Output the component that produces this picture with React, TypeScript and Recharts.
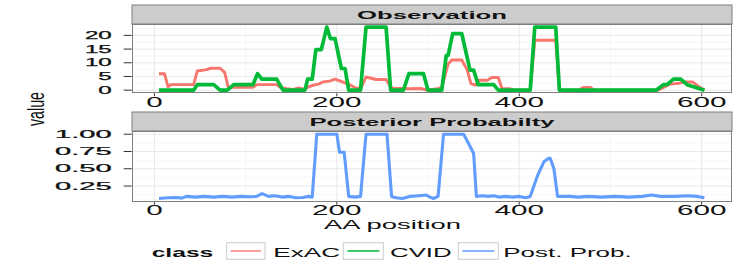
import { LineChart, Line, XAxis, YAxis, CartesianGrid } from 'recharts'

// ExAC (observation panel)
const exacPos = [5, 11, 15, 18, 43, 47, 57, 62, 72, 77, 81, 108, 112, 134, 138, 145, 152, 158, 164, 168, 174, 180, 185, 192, 198, 206, 215, 222, 227, 232, 243, 254, 259, 262, 273, 279, 292, 299, 310, 315, 322, 326, 337, 343, 347, 352, 356, 365, 370, 377, 381, 390, 395, 412, 417, 440, 444, 465, 470, 478, 482, 552, 558, 565, 575, 582, 590, 596, 603]
const exacVal = [6, 6, 1.2, 2, 2, 7, 7.5, 8, 8, 6.5, 1, 1, 2, 2, 1, 0.5, 0.3, 0.8, 0.4, 1, 1.8, 2.2, 3, 3.3, 4, 3, 1.8, 0.6, 1.2, 4.8, 3.9, 3.9, 1.2, 0.6, 0.6, 0.5, 0.6, 0, 0.5, 1, 9.5, 11, 11, 7.3, 2.4, 1.8, 3.6, 3.6, 4.6, 4.6, 0.6, 0.5, 0, 0, 18.2, 18.2, 0, 0, 1, 1, 0, 0, 1, 2.2, 2.5, 3, 3, 1.5, 0]

// CVID (observation panel)
const cvidPos = [5, 43, 47, 65, 72, 80, 87, 108, 113, 118, 134, 141, 165, 168, 173, 177, 183, 189, 193, 198, 205, 209, 213, 226, 232, 254, 259, 273, 279, 295, 300, 315, 320, 322, 327, 337, 346, 350, 355, 372, 377, 412, 417, 440, 444, 550, 558, 562, 569, 577, 584, 603]
const cvidVal = [0, 0, 2, 2, 0, 0, 2, 2, 6, 4, 4, 0, 0, 4, 4, 14.8, 14.8, 23, 18.8, 18.8, 7.9, 7.9, 0, 0, 23, 23, 0, 0, 6, 6, 0, 0, 12.7, 12.7, 20.6, 20.6, 7.3, 7.3, 2, 2, 0, 0, 23, 23, 0, 0, 2, 2, 4, 4, 2, 0]

// Posterior probability
const postPos = [5, 15, 25, 30, 35, 45, 55, 65, 75, 85, 95, 105, 112, 118, 125, 132, 140, 148, 155, 163, 168, 173, 178, 200, 203, 208, 213, 220, 226, 232, 255, 260, 265, 272, 280, 290, 298, 302, 306, 311, 317, 339, 345, 350, 353, 360, 366, 372, 378, 385, 393, 400, 407, 412, 420, 427, 432, 434, 438, 442, 455, 465, 475, 490, 505, 520, 535, 545, 555, 570, 585, 595, 603]
const postVal = [0.07, 0.08, 0.085, 0.075, 0.1, 0.09, 0.1, 0.09, 0.1, 0.09, 0.1, 0.095, 0.1, 0.14, 0.1, 0.11, 0.09, 0.1, 0.08, 0.085, 0.1, 0.09, 1, 1, 0.74, 0.74, 0.1, 0.09, 0.1, 1, 1, 0.1, 0.08, 0.07, 0.1, 0.11, 0.12, 0.09, 0.07, 0.1, 1, 1, 0.85, 0.72, 0.1, 0.11, 0.1, 0.11, 0.09, 0.1, 0.09, 0.1, 0.08, 0.1, 0.4, 0.6, 0.65, 0.65, 0.5, 0.1, 0.1, 0.09, 0.1, 0.09, 0.1, 0.09, 0.1, 0.12, 0.1, 0.1, 0.11, 0.1, 0.08]

const xTicks = [0, 200, 400, 600]
const xMinor = [100, 300, 500]
const obsTicks = [0, 5, 10, 15, 20]
const obsMinor = [2.5, 7.5, 12.5, 17.5, 22.5]
const postTicks = [0.25, 0.5, 0.75, 1]
const postMinor = [0.125, 0.375, 0.625, 0.875]

const legendNames = ['ExAC', 'CVID', 'Post. Prob.']
const COLORS = ['#F8766D', '#00BA38', '#619CFF']

const toRows = (pos: number[], val: number[]) => pos.map((p, i) => ({ pos: p, v: val[i] }))

const FONT = '"Liberation Sans", Arial, sans-serif'
const PANEL_L = 131.7
const PANEL_W = 600

const XTick = ({ x, y, payload }: any) => {
  const s = String(payload.value)
  return (
    <text x={x} y={y + 10.4} textAnchor="middle" fontSize={14} fontFamily={FONT} fill="#111"
      textLength={s.length * 16.5} lengthAdjust="spacingAndGlyphs">{s}</text>
  )
}

const makeYTick = (fmt: (v: number) => string, charW: number, size: number) => ({ x, y, payload }: any) => {
  const s = fmt(payload.value)
  const w = s.split('').reduce((a, c) => a + (c === '.' ? charW * 0.5 : charW), 0)
  return (
    <text x={x} y={y + 3.6} textAnchor="end" fontSize={size} fontFamily={FONT} fill="#111"
      stroke="#111" strokeWidth={0.25} textLength={w} lengthAdjust="spacingAndGlyphs">{s}</text>
  )
}

const Strip = ({ top, title, w }: { top: number; title: string; w: number }) => (
  <svg style={{ position: 'absolute', left: PANEL_L, top, overflow: 'visible' }} width={PANEL_W} height={19}>
    <rect x={0} y={0} width={PANEL_W} height={19} fill="#CCCCCC" stroke="#7F7F7F" strokeWidth={1} />
    <text x={PANEL_W / 2} y={13.5} textAnchor="middle" fontSize={10.5} fontWeight="bold" fontFamily={FONT}
      fill="#111" textLength={w} lengthAdjust="spacingAndGlyphs">{title}</text>
  </svg>
)

const Border = ({ top, height }: { top: number; height: number }) => (
  <div style={{ position: 'absolute', left: PANEL_L, top, width: PANEL_W, height, boxSizing: 'border-box', border: '1px solid #7F7F7F', pointerEvents: 'none' }} />
)

function Panel({ top, height, yDomain, yTicks, yMinor, yFmt, charW, ySize, series }: any) {
  return (
    <div style={{ position: 'absolute', left: 0, top }}>
      <LineChart width={747} height={height} margin={{ top: 24, right: 747 - PANEL_L - PANEL_W, bottom: 0, left: 0 }}>
        <CartesianGrid horizontalValues={yMinor} verticalValues={xMinor} stroke="#F5F5F5" strokeWidth={0.8} />
        <CartesianGrid horizontalValues={yTicks} verticalValues={xTicks} stroke="#E8E8E8" strokeWidth={1} />
        <XAxis type="number" dataKey="pos" domain={[-24.9, 632.9]} ticks={xTicks} interval={0} allowDataOverflow
          height={18.7} tickSize={3} tickMargin={0} axisLine={false} tickLine={{ stroke: '#333333' }} tick={XTick} />
        <YAxis type="number" domain={yDomain} ticks={yTicks} interval={0} allowDataOverflow width={PANEL_L}
          tickSize={8} tickMargin={12} axisLine={false} tickLine={{ stroke: '#333333' }}
          tick={makeYTick(yFmt, charW, ySize)} />
        {series.map((s: any) => (
          <Line key={s.name} data={s.rows} dataKey="v" type="linear" stroke={s.color} strokeWidth={s.width}
            dot={false} isAnimationActive={false} strokeLinejoin="round" strokeLinecap="butt" />
        ))}
      </LineChart>
    </div>
  )
}

export default function App() {
  const obsSeries = [
    { name: 'ExAC', rows: toRows(exacPos, exacVal), color: COLORS[0], width: 2.9 },
    { name: 'CVID', rows: toRows(cvidPos, cvidVal), color: COLORS[1], width: 3.7 },
  ]
  const postSeries = [{ name: 'Post', rows: toRows(postPos, postVal), color: COLORS[2], width: 3.1 }]
  const legendX = [{ box: 226.7, text: 273.3, w: 66.7 }, { box: 343.3, text: 390, w: 61.7 }, { box: 458.3, text: 503.3, w: 128.4 }]

  return (
    <div style={{ position: 'absolute', left: 0, top: 0, width: 747, height: 277, background: '#fff', overflow: 'hidden' }}>
      <Panel top={0} height={112} yDomain={[-1.15, 24.15]} yTicks={obsTicks} yMinor={obsMinor}
        yFmt={(v: number) => String(v)} charW={13.4} ySize={10} series={obsSeries} />
      <Panel top={107} height={113.4} yDomain={[0.0235, 1.0465]} yTicks={postTicks} yMinor={postMinor}
        yFmt={(v: number) => v.toFixed(2)} charW={16.2} ySize={10} series={postSeries} />
      <Border top={24} height={69.3} />
      <Border top={131} height={70.7} />
      <Strip top={5} title="Observation" w={150} />
      <Strip top={112.3} title="Posterior Probabilty" w={245} />
      <svg style={{ position: 'absolute', left: 0, top: 0 }} width={747} height={277}>
        <text transform="translate(44,109) scale(1.9,1) rotate(-90)" textAnchor="middle" fontSize={13}
          fontFamily={FONT} fill="#111" textLength={34} lengthAdjust="spacingAndGlyphs">value</text>
        <text x={392.5} y={228.5} textAnchor="middle" fontSize={13} fontFamily={FONT} fill="#111"
          textLength={137} lengthAdjust="spacingAndGlyphs">AA position</text>
        <text x={151.7} y={256.5} fontSize={13} fontWeight="bold" fontFamily={FONT} fill="#111"
          textLength={61.6} lengthAdjust="spacingAndGlyphs">class</text>
        {legendNames.map((n, i) => (
          <g key={n}>
            <rect x={legendX[i].box} y={242.7} width={i === 0 ? 38.3 : 40} height={16.6} fill="#fff" stroke="#CCCCCC" strokeWidth={1} />
            <line x1={legendX[i].box + 4} x2={legendX[i].box + (i === 0 ? 34.3 : 36)} y1={251} y2={251} stroke={COLORS[i]} strokeWidth={1.4} />
            <text x={legendX[i].text} y={257} fontSize={13} fontFamily={FONT} fill="#111"
              textLength={legendX[i].w} lengthAdjust="spacingAndGlyphs">{n}</text>
          </g>
        ))}
      </svg>
    </div>
  )
}
